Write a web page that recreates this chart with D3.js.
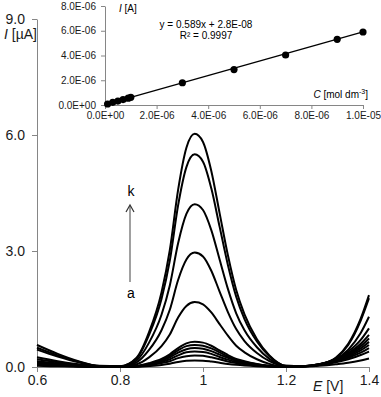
<!DOCTYPE html>
<html>
<head>
<meta charset="utf-8">
<script src="https://cdn.jsdelivr.net/npm/d3@7"></script>
<style>
  body { margin: 0; background: #fff; }
  svg { display: block; font-family: "Liberation Sans", Arial, sans-serif; }
  .axis path, .axis line { stroke: #868686; }
  .axis text { fill: #1a1a1a; }
</style>
</head>
<body>
<svg></svg>
<script>
// potentials (V) shared by all voltammograms
let potential = [0.60, 0.65, 0.70, 0.75, 0.80, 0.84, 0.87, 0.90, 0.92, 0.94, 0.96, 0.98, 1.00, 1.02, 1.04, 1.06, 1.08, 1.10, 1.13, 1.16, 1.20, 1.24, 1.28, 1.32, 1.35, 1.38, 1.40];

// currents (uA), curves a..k
let currentA = [0.03, 0.018, 0.008, 0.002, 0.0, 0.007, 0.026, 0.054, 0.085, 0.13, 0.16, 0.17, 0.164, 0.14, 0.11, 0.08, 0.056, 0.038, 0.02, 0.009, 0.002, 0.01, 0.03, 0.07, 0.11, 0.17, 0.22];
let currentB = [0.05, 0.03, 0.014, 0.003, 0.001, 0.012, 0.045, 0.10, 0.15, 0.23, 0.28, 0.30, 0.29, 0.25, 0.20, 0.14, 0.10, 0.07, 0.036, 0.015, 0.005, 0.01, 0.05, 0.12, 0.20, 0.31, 0.40];
let currentC = [0.07, 0.04, 0.02, 0.004, 0.001, 0.016, 0.06, 0.13, 0.20, 0.30, 0.38, 0.40, 0.39, 0.34, 0.26, 0.19, 0.13, 0.09, 0.05, 0.02, 0.005, 0.01, 0.05, 0.14, 0.24, 0.37, 0.49];
let currentD = [0.09, 0.055, 0.025, 0.005, 0.001, 0.02, 0.07, 0.16, 0.25, 0.37, 0.46, 0.49, 0.47, 0.41, 0.32, 0.24, 0.16, 0.11, 0.06, 0.025, 0.01, 0.02, 0.06, 0.16, 0.27, 0.43, 0.57];
let currentE = [0.12, 0.07, 0.03, 0.006, 0.002, 0.023, 0.085, 0.18, 0.29, 0.43, 0.54, 0.57, 0.55, 0.48, 0.38, 0.27, 0.19, 0.13, 0.07, 0.03, 0.01, 0.02, 0.06, 0.17, 0.30, 0.48, 0.65];
let currentF = [0.15, 0.09, 0.04, 0.008, 0.002, 0.026, 0.10, 0.21, 0.33, 0.49, 0.61, 0.65, 0.63, 0.55, 0.43, 0.31, 0.21, 0.15, 0.08, 0.03, 0.01, 0.02, 0.06, 0.18, 0.33, 0.54, 0.74];
let currentG = [0.20, 0.12, 0.054, 0.01, 0.005, 0.07, 0.25, 0.54, 0.84, 1.28, 1.58, 1.68, 1.62, 1.41, 1.11, 0.81, 0.55, 0.38, 0.20, 0.08, 0.01, 0.02, 0.07, 0.19, 0.36, 0.60, 0.83];
let currentH = [0.25, 0.15, 0.07, 0.01, 0.01, 0.12, 0.44, 0.95, 1.48, 2.25, 2.78, 2.96, 2.86, 2.49, 1.95, 1.42, 0.98, 0.67, 0.36, 0.15, 0.015, 0.02, 0.07, 0.20, 0.40, 0.70, 1.00];
let currentI = [0.45, 0.27, 0.12, 0.02, 0.01, 0.17, 0.63, 1.35, 2.11, 3.20, 3.96, 4.21, 4.06, 3.54, 2.78, 2.02, 1.39, 0.95, 0.51, 0.21, 0.02, 0.02, 0.06, 0.20, 0.45, 0.88, 1.30];
let currentJ = [0.50, 0.30, 0.135, 0.025, 0.02, 0.22, 0.83, 1.76, 2.75, 4.18, 5.17, 5.50, 5.31, 4.62, 3.63, 2.64, 1.82, 1.24, 0.66, 0.28, 0.03, 0.02, 0.07, 0.23, 0.57, 1.20, 1.78];
let currentK = [0.57, 0.34, 0.15, 0.03, 0.02, 0.24, 0.90, 1.93, 3.02, 4.58, 5.67, 6.03, 5.82, 5.07, 3.98, 2.89, 1.99, 1.36, 0.72, 0.30, 0.03, 0.02, 0.07, 0.24, 0.60, 1.25, 1.86];

let curves = [currentA, currentB, currentC, currentD, currentE, currentF, currentG, currentH, currentI, currentJ, currentK];

let xTicks = [0.6, 0.8, 1.0, 1.2, 1.4];
let xTickLabels = ["0.6", "0.8", "1", "1.2", "1.4"];
let yTicks = [0, 3, 6, 9];
let yTickLabels = ["0.0", "3.0", "6.0", "9.0"];

// inset calibration
let concentration = [1e-7, 3e-7, 5e-7, 7e-7, 9e-7, 1e-6, 3e-6, 5e-6, 7e-6, 9e-6, 1e-5];
let peakCurrent = [0.08e-6, 0.22e-6, 0.32e-6, 0.44e-6, 0.55e-6, 0.62e-6, 1.80e-6, 2.86e-6, 4.04e-6, 5.31e-6, 5.90e-6];
let fitSlope = 0.589;
let fitIntercept = 2.8e-8;
let insetXTicks = [0, 2e-6, 4e-6, 6e-6, 8e-6, 1e-5];
let insetXLabels = ["0.0E+00", "2.0E-06", "4.0E-06", "6.0E-06", "8.0E-06", "1.0E-05"];
let insetYTicks = [0, 2e-6, 4e-6, 6e-6, 8e-6];
let insetYLabels = ["0.0E+00", "2.0E-06", "4.0E-06", "6.0E-06", "8.0E-06"];

let width = 381;
let height = 397;

let svg = d3.select('svg')
    .attr('width', width)
    .attr('height', height);

let xScale = d3.scaleLinear().domain([0.6, 1.4]).range([37, 369]);
let yScale = d3.scaleLinear().domain([0, 9]).range([367, 19]);

let insetX = d3.scaleLinear().domain([0, 1e-5]).range([105, 363]);
let insetY = d3.scaleLinear().domain([0, 8e-6]).range([105, 6]);

let drawMainAxes = () => {
    let xAxis = d3.axisBottom(xScale)
        .tickValues(xTicks)
        .tickSizeInner(5)
        .tickSizeOuter(0)
        .tickPadding(3)
        .tickFormat((d, i) => xTickLabels[i]);
    let yAxis = d3.axisLeft(yScale)
        .tickValues(yTicks)
        .tickSizeInner(5)
        .tickSizeOuter(0)
        .tickPadding(7)
        .tickFormat((d, i) => yTickLabels[i]);

    svg.append('g')
        .attr('class', 'axis')
        .attr('transform', 'translate(0,' + yScale(0) + ')')
        .call(xAxis)
        .selectAll('text')
        .style('font-size', '14px');

    svg.append('g')
        .attr('class', 'axis')
        .attr('transform', 'translate(' + xScale(0.6) + ',0)')
        .call(yAxis)
        .selectAll('text')
        .style('font-size', '14px');

    let yLabel = svg.append('text')
        .attr('x', 4)
        .attr('y', 39)
        .style('font-size', '14px')
        .style('fill', '#1a1a1a');
    yLabel.append('tspan').style('font-style', 'italic').text('I');
    yLabel.append('tspan').text(' [µA]');

    let xLabel = svg.append('text')
        .attr('x', 313)
        .attr('y', 391)
        .style('font-size', '14px')
        .style('fill', '#1a1a1a');
    xLabel.append('tspan').style('font-style', 'italic').text('E');
    xLabel.append('tspan').text(' [V]');
}

let drawCurves = () => {
    let line = d3.line()
        .x((d, i) => xScale(potential[i]))
        .y((d) => yScale(d))
        .curve(d3.curveMonotoneX);

    svg.append('g')
        .selectAll('path')
        .data(curves)
        .enter()
        .append('path')
        .attr('d', line)
        .attr('fill', 'none')
        .attr('stroke', '#000')
        .attr('stroke-width', 2);
}

let drawArrow = () => {
    let ax = 130;
    svg.append('line')
        .attr('x1', ax).attr('y1', 206)
        .attr('x2', ax).attr('y2', 282)
        .attr('stroke', '#808080')
        .attr('stroke-width', 1.5);
    svg.append('path')
        .attr('d', 'M' + (ax - 4) + ',' + 212 + 'L' + ax + ',' + 205 + 'L' + (ax + 4) + ',' + 212)
        .attr('fill', 'none')
        .attr('stroke', '#333')
        .attr('stroke-width', 1.2);
    svg.append('text')
        .attr('x', ax + 1).attr('y', 196)
        .attr('text-anchor', 'middle')
        .style('font-size', '14px')
        .text('k');
    svg.append('text')
        .attr('x', ax + 1).attr('y', 298)
        .attr('text-anchor', 'middle')
        .style('font-size', '14px')
        .text('a');
}

let drawInset = () => {
    let g = svg.append('g');

    let xAxis = d3.axisBottom(insetX)
        .tickValues(insetXTicks)
        .tickSizeInner(4)
        .tickSizeOuter(0)
        .tickPadding(3)
        .tickFormat((d, i) => insetXLabels[i]);
    let yAxis = d3.axisLeft(insetY)
        .tickValues(insetYTicks)
        .tickSizeInner(4)
        .tickSizeOuter(0)
        .tickPadding(5)
        .tickFormat((d, i) => insetYLabels[i]);

    g.append('g')
        .attr('class', 'axis')
        .attr('transform', 'translate(0,' + insetY(0) + ')')
        .call(xAxis)
        .selectAll('text')
        .style('font-size', '10px');

    g.append('g')
        .attr('class', 'axis')
        .attr('transform', 'translate(' + insetX(0) + ',0)')
        .call(yAxis)
        .selectAll('text')
        .style('font-size', '10px');

    // linear fit
    g.append('line')
        .attr('x1', insetX(0))
        .attr('y1', insetY(fitIntercept))
        .attr('x2', insetX(1e-5))
        .attr('y2', insetY(fitSlope * 1e-5 + fitIntercept))
        .attr('stroke', '#000')
        .attr('stroke-width', 1.3);

    g.selectAll('circle')
        .data(concentration)
        .enter()
        .append('circle')
        .attr('cx', (d) => insetX(d))
        .attr('cy', (d, i) => insetY(peakCurrent[i]))
        .attr('r', 3.6)
        .attr('fill', '#000');

    let iLabel = g.append('text')
        .attr('x', 119).attr('y', 12)
        .style('font-size', '10px');
    iLabel.append('tspan').style('font-style', 'italic').text('I');
    iLabel.append('tspan').text(' [A]');

    g.append('text')
        .attr('x', 206).attr('y', 28)
        .attr('text-anchor', 'middle')
        .style('font-size', '10px')
        .text('y = 0.589x + 2.8E-08');
    g.append('text')
        .attr('x', 206).attr('y', 39)
        .attr('text-anchor', 'middle')
        .style('font-size', '10px')
        .text('R² = 0.9997');

    let cLabel = g.append('text')
        .attr('x', 368).attr('y', 98)
        .attr('text-anchor', 'end')
        .style('font-size', '10px');
    cLabel.append('tspan').style('font-style', 'italic').text('C');
    cLabel.append('tspan').text(' [mol dm');
    cLabel.append('tspan').attr('dy', -4).style('font-size', '7px').text('-3');
    cLabel.append('tspan').attr('dy', 4).text(']');
}

drawMainAxes()
drawCurves()
drawArrow()
drawInset()
</script>
</body>
</html>
